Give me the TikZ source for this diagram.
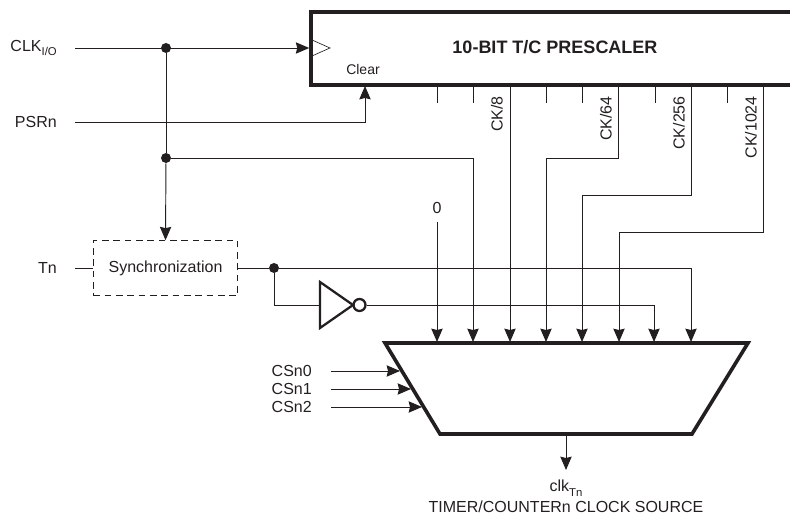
\documentclass[tikz,border=0pt]{standalone}
\usepackage{fontspec}
\setmainfont{Liberation Sans}
\usetikzlibrary{arrows.meta}
\definecolor{inkcol}{HTML}{231F20}
\newcommand{\lowtext}[1]{\raisebox{-3.5pt}{\fontsize{8.5}{8.5}\selectfont #1}}
\tikzset{
	sig/.style={draw=inkcol, line width=0.7pt},
	sigin/.style={sig, -{Stealth[length=10pt, width=8.5pt, inset=1pt]}},
	heavy/.style={draw=inkcol, line width=2.7pt, line join=miter},
	lbl/.style={text=inkcol, inner sep=0pt, font=\fontsize{12}{14}\selectfont},
	ticklbl/.style={lbl, rotate=90, anchor=east},
	junction/.style={circle, fill=inkcol, inner sep=0pt, minimum size=7.5pt},
}
\begin{document}
\begin{tikzpicture}[x=0.75pt, y=-0.75pt]
	\useasboundingbox (0,0) rectangle (790,516);
	% prescaler block, right edge lies past the page
	\clip (0,0) rectangle (790,516);
	\node[heavy, fill=white, minimum width=366pt, minimum height=54.5pt, inner sep=0pt] (prescaler) at (555,48.5) {};
	\node[lbl, font=\fontsize{13.5}{15}\selectfont\bfseries] (title) at (555,47) {10-BIT T/C PRESCALER};
	\node[lbl, font=\fontsize{10.5}{12}\selectfont] (clear) at (363,70) {Clear};
	\coordinate (ckl1) at (312,40);
	\coordinate (ckl2) at (330,48);
	\coordinate (ckl3) at (312,56);
	\draw[draw=inkcol, line width=0.5pt] (ckl1) -- (ckl2) -- (ckl3);

	% input labels
	\node[lbl, anchor=east] (clklbl) at (57,48) {CLK\lowtext{I/O}};
	\node[lbl, anchor=east] (psrlbl) at (57,122) {PSRn};
	\node[lbl, anchor=east] (tnlbl) at (57,268) {Tn};
	\coordinate (clkin) at (75,48);
	\coordinate (psrin) at (75,122);
	\coordinate (tnin) at (75,268);

	% sync block and inverter
	\node[sig, dashed, dash pattern=on 5pt off 3.5pt, minimum width=108.5pt, minimum height=41pt, inner sep=0pt] (sync) at (165.5,268) {};
	\node[lbl] (synclbl) at (165.5,268) {Synchronization};
	\coordinate (invt) at (320,282);
	\coordinate (invb) at (320,328);
	\coordinate (invp) at (353,305);
	\draw[draw=inkcol, line width=1.7pt, line join=miter] (invt) -- (invp) -- (invb) -- cycle;
	\node[circle, draw=inkcol, line width=1.7pt, inner sep=0pt, minimum size=9pt] (bubble) at (359.5,305) {};

	% mux
	\coordinate (muxtl) at (385,343);
	\coordinate (muxtr) at (748,343);
	\coordinate (muxbr) at (692,434);
	\coordinate (muxbl) at (440,434);
	\draw[heavy] (muxtl) -- (muxtr) -- (muxbr) -- (muxbl) -- cycle;

	% junctions
	\node[junction] (jclk) at (166,48) {};
	\node[junction] (jmid) at (166,158) {};
	\node[junction] (jsync) at (274,268) {};

	% clock lines
	\draw[sigin] (clkin) -- (prescaler.west |- clkin);
	\draw[sig] (jclk) -- (jmid);
	\draw[sigin] (jmid) -- (sync.north);
	\draw[sigin] (psrin) -- (365,122) -- (365,86);
	\draw[sig] (tnin) -- (sync.west);
	\draw[sig] (sync.east) -- (jsync);

	% short ticks under the prescaler
	\foreach \tx in {437,473,546,582,655,727}
		\draw[sig] (\tx,85) -- (\tx,103);

	% inputs of the mux
	\node[lbl] (zero) at (437,208) {0};
	\draw[sigin] (437,222) -- (437,342);
	\draw[sigin] (jmid) -- (473,158) -- (473,342);
	\draw[sigin] (510,85) -- (510,342);
	\draw[sigin] (618,85) -- (618,158) -- (546,158) -- (546,342);
	\draw[sigin] (691,85) -- (691,195) -- (582,195) -- (582,342);
	\draw[sigin] (763,85) -- (763,232) -- (619,232) -- (619,342);
	\draw[sigin] (bubble.east) -- (654,305) -- (654,342);
	\draw[sigin] (jsync) -- (691,268) -- (691,342);
	\draw[sig] (jsync) -- (274,305) -- (invt |- bubble);

	% divider labels
	\node[ticklbl] (ck8) at (497,96) {CK/8};
	\node[ticklbl] (ck64) at (606,96) {CK/64};
	\node[ticklbl] (ck256) at (679,96) {CK/256};
	\node[ticklbl] (ck1024) at (751,96) {CK/1024};

	% select lines
	\node[lbl, anchor=east] (cs0) at (312,371) {CSn0};
	\node[lbl, anchor=east] (cs1) at (312,389) {CSn1};
	\node[lbl, anchor=east] (cs2) at (312,407) {CSn2};
	\draw[sigin] (331,371) -- (400,371);
	\draw[sigin] (331,389) -- (411,389);
	\draw[sigin] (331,407) -- (422,407);

	% output
	\coordinate (muxout) at (566,434);
	\draw[sigin] (muxout) -- (566,470);
	\node[lbl] (clklabel) at (566,488) {clk\lowtext{Tn}};
	\node[lbl] (srclbl) at (566,507) {TIMER/COUNTERn CLOCK SOURCE};
\end{tikzpicture}
\end{document}
